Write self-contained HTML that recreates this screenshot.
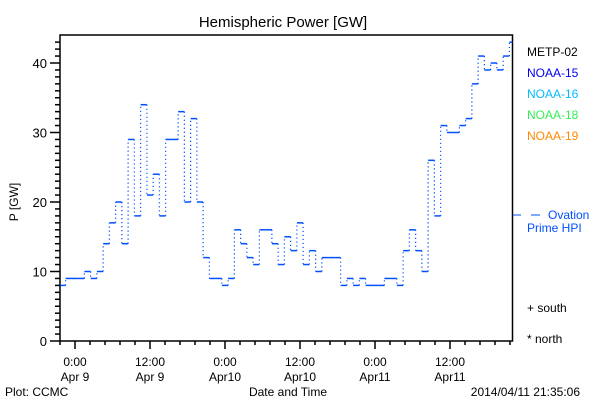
<!DOCTYPE html>
<html><head><meta charset="utf-8"><style>
html,body{margin:0;padding:0;background:#fff}
svg{display:block;font-family:"Liberation Sans",sans-serif}
</style></head><body>
<svg id="c" width="600" height="400" viewBox="0 0 600 400">
<rect width="600" height="400" fill="#fff"/>
<text x="283" y="27" font-size="15" text-anchor="middle">Hemispheric Power [GW]</text>
<text transform="translate(18,202) rotate(-90)" font-size="12" text-anchor="middle">P [GW]</text>
<text x="5" y="396" font-size="12">Plot: CCMC</text>
<text x="288" y="396" font-size="12" text-anchor="middle">Date and Time</text>
<text x="580" y="396" font-size="12" text-anchor="end">2014/04/11 21:35:06</text>
<g id="axes"></g>
<g id="series"></g>
<g font-size="12">
<text x="527" y="56" fill="#000">METP-02</text>
<text x="527" y="77" fill="#0000ee">NOAA-15</text>
<text x="527" y="98" fill="#00bbff">NOAA-16</text>
<text x="527" y="119" fill="#33ee55">NOAA-18</text>
<text x="527" y="140" fill="#ff8800">NOAA-19</text>
<line x1="513" y1="215" x2="521" y2="215" stroke="#0050ff"/>
<line x1="531" y1="215" x2="540" y2="215" stroke="#0050ff"/>
<text x="548" y="219" fill="#0050ff">Ovation</text>
<text x="527" y="232" fill="#0050ff">Prime HPI</text>
<text x="527" y="312" fill="#000">+ south</text>
<text x="527" y="343" fill="#000">* north</text>
</g>
</svg>
<script>
const startHour = -2;
const powerValues = [8,9,9,9,10,9,10,14,17,20,14,29,18,34,21,24,18,29,29,33,20,32,20,12,9,9,8,9,16,14,12,11,16,16,14,11,15,13,17,11,13,10,12,12,12,8,9,8,9,8,8,8,9,9,8,13,16,13,10,26,18,31,30,30,31,32,37,41,39,40,39,41,43];
const yTickLabels = ["0","10","20","30","40"];
const yTickValues = [0,10,20,30,40];
const xTickHours = [0,12,24,36,48,60];
const xTickLine1 = ["0:00","12:00","0:00","12:00","0:00","12:00"];
const xTickLine2 = ["Apr 9","Apr 9","Apr10","Apr10","Apr11","Apr11"];

const L=60,R=512.5,T=35,B=341;
const xMin=-2.4, xMax=70.6, yMin=0, yMax=44;
const X=h=>75+(h)*6.25;
const Y=v=>B-(v-yMin)*6.95;
const NS="http://www.w3.org/2000/svg";
function mk(tag,attrs,parent){const e=document.createElementNS(NS,tag);for(const k in attrs)e.setAttribute(k,attrs[k]);parent.appendChild(e);return e;}
const ax=document.getElementById('axes'), se=document.getElementById('series');
const frame=mk('rect',{x:L,y:T,width:R-L,height:B-T,fill:'none',stroke:'#000','stroke-width':1.5},ax);


for(let v=0;v<=43;v++){
  const major=v%10===0;
  const t=mk('line',{x1:L-(major?10:5),x2:L,y1:Y(v),y2:Y(v),stroke:'#000','stroke-width':1.5},ax);
  
  
}
yTickValues.forEach((v,i)=>{
  const t=mk('text',{x:L-13,y:Y(v)+5,'font-size':13,'text-anchor':'end'},ax);
  t.textContent=yTickLabels[i];
  
  
});
for(let k=-1;k<=29;k++){
  const h=k*2.4; const x=X(h);
  if(x<L-0.5||x>R+0.5)continue;
  const major=k%5===0;
  const t=mk('line',{x1:x,x2:x,y1:B,y2:B+(major?8:4),stroke:'#000','stroke-width':1.5},ax);
  
  
}
xTickHours.forEach((h,i)=>{
  const a=mk('text',{x:X(h),y:366,'font-size':12,'text-anchor':'middle'},ax);
  a.textContent=xTickLine1[i];
  
  
  const b=mk('text',{x:X(h),y:381,'font-size':12,'text-anchor':'middle'},ax);
  b.textContent=xTickLine2[i];
  
  
});
const clipX=x=>Math.max(L,Math.min(R,x));
powerValues.forEach((v,i)=>{
  const h=startHour+i;
  const x1=clipX(X(h-0.5)), x2=clipX(X(h+0.5));
  if(x2<=x1)return;
  const s=mk('line',{x1:x1,x2:x2,y1:Y(v),y2:Y(v),stroke:'#0050ff','stroke-width':1.5},se);
  
  
  if(i>0){
    const p=powerValues[i-1];
    const d=mk('line',{x1:x1,x2:x1,y1:Y(p),y2:Y(v),stroke:'#0050ff','stroke-width':1.2,'stroke-dasharray':'1.2,2.8'},se);
    
    
  }
});
</script>
</body></html>
